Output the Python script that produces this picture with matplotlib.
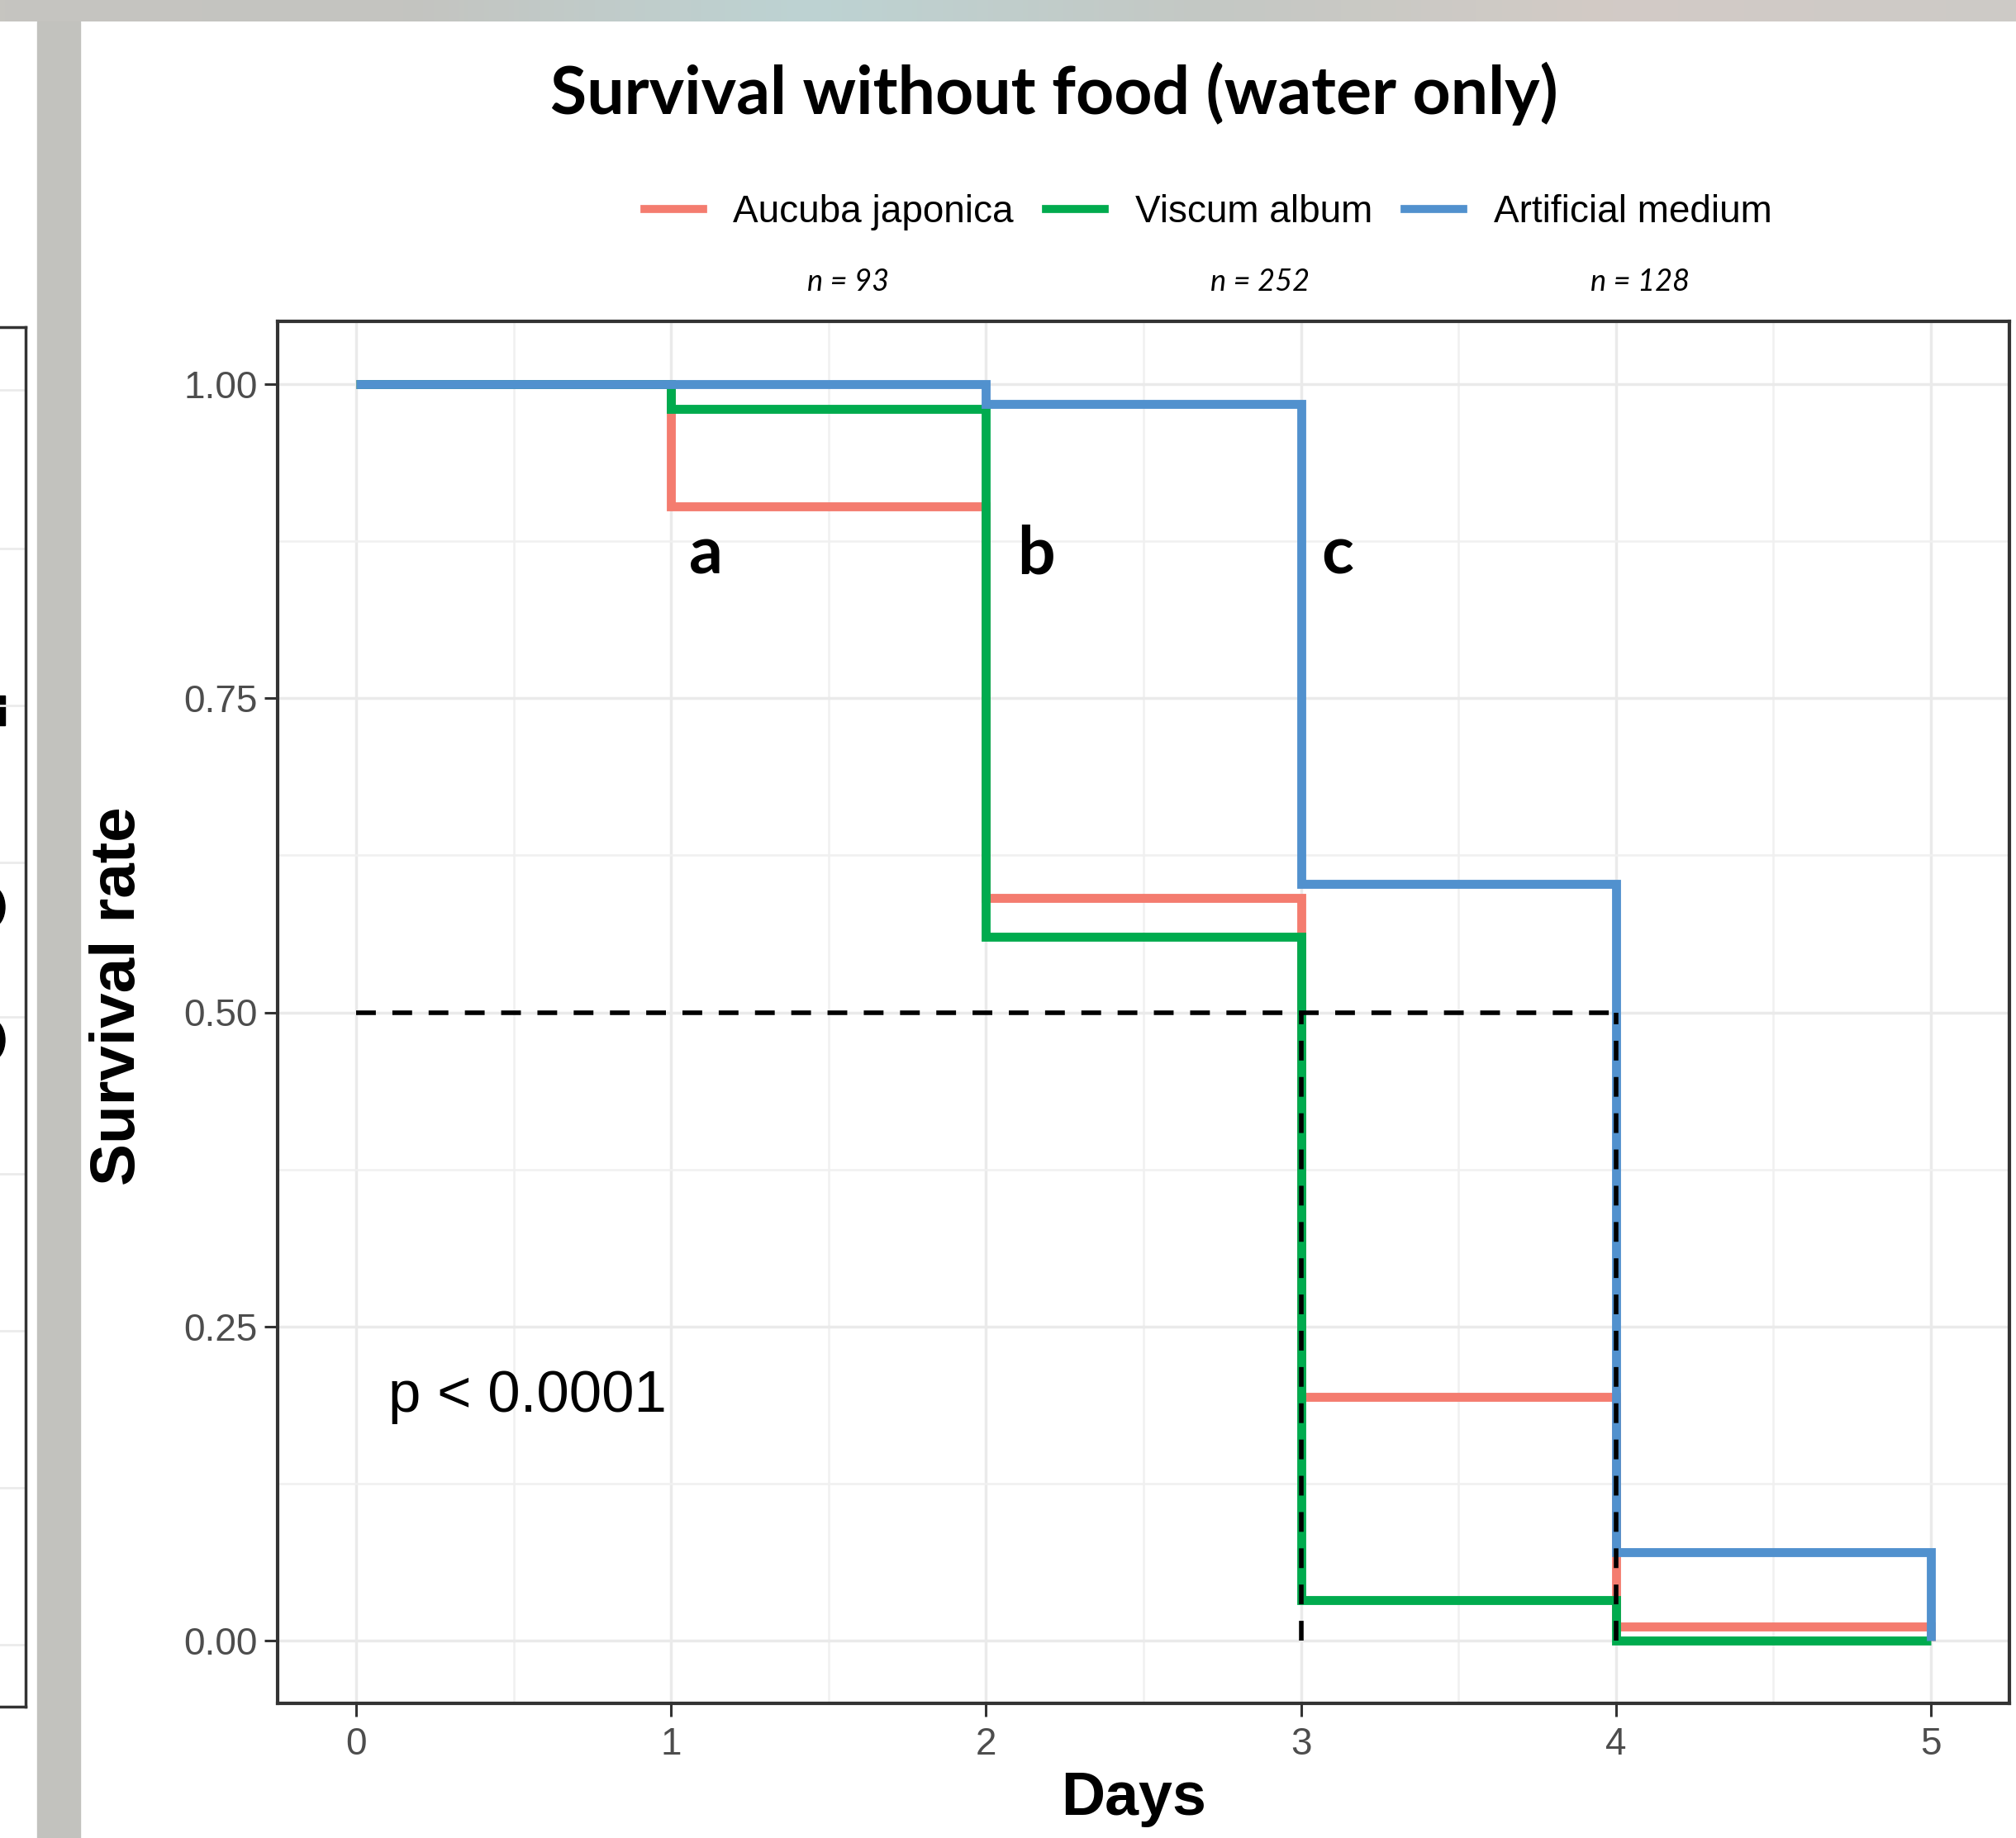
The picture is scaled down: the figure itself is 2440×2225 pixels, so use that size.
import matplotlib
matplotlib.use("Agg")
import matplotlib.pyplot as plt
from matplotlib.lines import Line2D
from matplotlib.patches import Rectangle, Ellipse
import numpy as np

# Kaplan-Meier style survival
days = [0, 1, 2, 3, 4, 5]
aucuba = [1.0, 0.903, 0.591, 0.194, 0.011, 0.0]
viscum = [1.0, 0.980, 0.560, 0.032, 0.0, 0.0]
artificial = [1.0, 1.0, 0.984, 0.602, 0.070, 0.0]

group_names = ["Aucuba japonica", "Viscum album", "Artificial medium"]
group_n = [93, 252, 128]
group_colors = ["#F47C6F", "#00AB4E", "#5191CE"]

median_level = 0.5
median_days = [3, 4]
letters = ["a", "b", "c"]
p_label = "p < 0.0001"

W, H = 2440, 2225
fig = plt.figure(figsize=(W / 100, H / 100), dpi=100)
fig.patch.set_facecolor("white")


def fx(px):
    return px / W


def fy(py):
    return 1 - py / H


# background bits from the screenshot (top band, grey strip, neighbour panel)
band = fig.add_axes([0, fy(26), 1, 26 / H])
stops = np.array([[198, 197, 192], [196, 196, 192], [189, 211, 211],
                  [196, 200, 196], [211, 203, 198], [205, 202, 198]]) / 255
pos = np.linspace(0, 1, len(stops))
xs = np.linspace(0, 1, 400)
grad = np.stack([np.interp(xs, pos, stops[:, k]) for k in range(3)], axis=-1)
band.imshow(grad[None, :, :], aspect="auto", extent=[0, 1, 0, 1])
band.set_axis_off()

fig.patches.append(Rectangle((fx(45), 0), fx(97) - fx(45), fy(26),
                             transform=fig.transFigure, color="#C2C2BE", zorder=0))

side = fig.add_axes([fx(31 - 500), fy(2066), 500 / W, (2066 - 396) / H])
side.set_xlim(0, 500)
side.set_ylim(2066, 396)
side.set_yticks([472, 664, 854, 1044, 1231, 1421, 1611, 1801, 1991])
side.set_xticks([])
side.grid(axis="y", color="#EBEBEB", lw=2)
side.tick_params(length=0, labelleft=False)
for s in side.spines.values():
    s.set_color("#333333")
    s.set_linewidth(2.5)
# clipped glyph pieces of the neighbouring panel
side.add_patch(Rectangle((440, 842), 35, 36, color="black"))
for cy in [1098, 1259]:
    side.add_patch(Ellipse((460, cy), 30, 48, color="black"))

# main panel
ax = fig.add_axes([fx(336), fy(2062), fx(2432) - fx(336), (2062 - 389) / H])
ax.set_xlim(-0.25, 5.25)
ax.set_ylim(-0.05, 1.05)

for vals, color in zip([aucuba, viscum, artificial], group_colors):
    ax.step(days, vals, where="post", color=color, lw=7.8,
            solid_joinstyle="miter", solid_capstyle="butt", zorder=3)

dash = (4.3, 3.6)
ax.plot([0, max(median_days)], [median_level, median_level], color="black",
        lw=4, ls=(0, dash), zorder=4)
for d in median_days:
    ax.plot([d, d], [0, median_level], color="black", lw=4, ls=(0, dash), zorder=4)

ax.set_xticks(days)
ax.set_xticks(np.arange(0.5, 5, 1), minor=True)
yt = [0, 0.25, 0.5, 0.75, 1.0]
ax.set_yticks(yt)
ax.set_yticklabels([f"{v:.2f}" for v in yt])
ax.set_yticks([0.125, 0.375, 0.625, 0.875], minor=True)
ax.set_axisbelow(True)
ax.grid(which="major", color="#EAEAEA", lw=2.5)
ax.grid(which="minor", color="#F0F0F0", lw=1.8)
ax.tick_params(which="major", length=11.5, width=2.2, color="#333333",
               labelsize=33, labelcolor="#4D4D4D")
ax.tick_params(axis="y", pad=6)
ax.tick_params(axis="x", pad=9)
ax.tick_params(which="minor", length=0)
for lab in ax.get_xticklabels() + ax.get_yticklabels():
    lab.set_family("Liberation Sans")
for s in ax.spines.values():
    s.set_color("#333333")
    s.set_linewidth(3)

ax.text(0.102, 0.182, p_label, fontsize=51, family="Liberation Sans",
        ha="left", va="baseline")
for x, ch in zip([1.058, 2.10, 3.064], letters):
    ax.text(x, 0.849, ch, fontsize=58, family="Lato", fontweight="bold",
            ha="left", va="baseline")

handles = [Line2D([0], [0], color=c, lw=7) for c in group_colors]
ax.legend(handles, group_names, loc="center", bbox_to_anchor=(fx(1462), fy(257)),
          bbox_transform=fig.transFigure, ncol=3, frameon=False,
          prop={"family": "Liberation Sans", "size": 33},
          handlelength=1.55, handletextpad=0.8, columnspacing=0.85)

for x, n in zip([1027, 1525, 1985], group_n):
    fig.text(fx(x), fy(341), f"n = {n}", ha="center", va="center",
             fontsize=26, family="Lato", style="italic")

fig.text(fx(1276), fy(113), "Survival without food (water only)", ha="center",
         va="center", fontsize=58, family="Lato", fontweight="bold")
fig.text(fx(143), fy(1206), "Survival rate", rotation=90, ha="center",
         va="center", fontsize=55, family="Liberation Sans", fontweight="bold")
fig.text(fx(1372), fy(2178), "Days", ha="center", va="center", fontsize=53,
         family="Liberation Sans", fontweight="bold")

fig.savefig("out.png", dpi=100)
